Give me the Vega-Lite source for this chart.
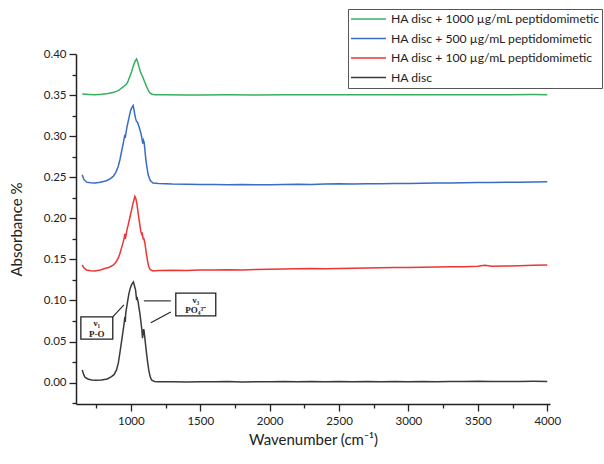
{
  "$schema": "https://vega.github.io/schema/vega-lite/v6.json",
  "width": 474,
  "height": 350,
  "autosize": {"type": "none"},
  "padding": {"left": 76, "top": 54, "right": 54, "bottom": 60},
  "background": "white",
  "config": {
    "view": {"stroke": null},
    "font": "Lato",
    "axis": {
      "grid": false,
      "domainColor": "#222",
      "domainWidth": 1.5,
      "tickColor": "#222",
      "tickWidth": 1.3,
      "labelFont": "Lato",
      "labelFontSize": 11.5,
      "labelColor": "#222",
      "titleFont": "Lato",
      "titleFontSize": 15,
      "titleFontWeight": "normal",
      "titleColor": "#222"
    },
    "legend": {
      "orient": "none",
      "legendX": 272,
      "legendY": -45,
      "strokeColor": "#555",
      "fillColor": "white",
      "padding": 2,
      "symbolType": "stroke",
      "symbolSize": 1225,
      "symbolStrokeWidth": 1.6,
      "clipHeight": 16,
      "rowPadding": 3.5,
      "labelFont": "Lato",
      "labelFontSize": 12.2,
      "labelColor": "#222",
      "labelOffset": 4,
      "labelLimit": 400
    }
  },
  "encoding": {
    "x": {
      "field": "x", "type": "quantitative",
      "scale": {"domain": [605, 4020], "nice": false, "zero": false},
      "axis": {
        "title": "Wavenumber (cm⁻¹)",
        "values": [750, 1000, 1250, 1500, 1750, 2000, 2250, 2500, 2750, 3000, 3250, 3500, 3750, 4000],
        "labelExpr": "datum.value % 500 == 0 ? datum.label : ''",
        "tickSize": {"condition": {"test": "datum.value % 500 == 0", "value": 7}, "value": 4},
        "format": "d",
        "labelPadding": 4,
        "titlePadding": 6
      }
    },
    "y": {
      "field": "y", "type": "quantitative",
      "scale": {"domain": [-0.026, 0.4], "nice": false, "zero": false},
      "axis": {
        "title": "Absorbance %",
        "values": [-0.025, 0, 0.025, 0.05, 0.075, 0.1, 0.125, 0.15, 0.175, 0.2, 0.225, 0.25, 0.275, 0.3, 0.325, 0.35, 0.375, 0.4],
        "format": ".2f",
        "labelExpr": "abs(datum.value * 20 - round(datum.value * 20)) < 0.001 ? datum.label : ''",
        "tickSize": {"condition": {"test": "abs(datum.value * 20 - round(datum.value * 20)) < 0.001", "value": 7}, "value": 4},
        "labelPadding": 3,
        "titlePadding": 19
      }
    }
  },
  "layer": [
    {
      "data": {"values": [
        {"s":"0","x":650,"y":0.0155},{"s":"0","x":660,"y":0.010},{"s":"0","x":669,"y":0.0066},{"s":"0","x":690,"y":0.0045},{"s":"0","x":717,"y":0.0033},{"s":"0","x":750,"y":0.003},{"s":"0","x":789,"y":0.0033},{"s":"0","x":830,"y":0.0045},{"s":"0","x":861,"y":0.0073},{"s":"0","x":880,"y":0.010},{"s":"0","x":897,"y":0.0155},{"s":"0","x":910,"y":0.024},{"s":"0","x":921,"y":0.036},{"s":"0","x":933,"y":0.050},{"s":"0","x":945,"y":0.064},{"s":"0","x":953,"y":0.074},{"s":"0","x":957,"y":0.080},{"s":"0","x":960,"y":0.074},{"s":"0","x":963,"y":0.084},{"s":"0","x":969,"y":0.0906},{"s":"0","x":978,"y":0.100},{"s":"0","x":987,"y":0.109},{"s":"0","x":996,"y":0.115},{"s":"0","x":1005,"y":0.119},{"s":"0","x":1012,"y":0.121},{"s":"0","x":1019,"y":0.1225},{"s":"0","x":1026,"y":0.118},{"s":"0","x":1034,"y":0.113},{"s":"0","x":1041,"y":0.102},{"s":"0","x":1046,"y":0.103},{"s":"0","x":1052,"y":0.099},{"s":"0","x":1058,"y":0.092},{"s":"0","x":1065,"y":0.0845},{"s":"0","x":1072,"y":0.075},{"s":"0","x":1077,"y":0.068},{"s":"0","x":1080,"y":0.064},{"s":"0","x":1084,"y":0.054},{"s":"0","x":1088,"y":0.060},{"s":"0","x":1093,"y":0.065},{"s":"0","x":1096,"y":0.062},{"s":"0","x":1105,"y":0.048},{"s":"0","x":1113,"y":0.036},{"s":"0","x":1121,"y":0.025},{"s":"0","x":1129,"y":0.0155},{"s":"0","x":1138,"y":0.008},{"s":"0","x":1149,"y":0.0033},{"s":"0","x":1170,"y":0.0015},{"s":"0","x":1196,"y":0.001},{"s":"0","x":1300,"y":0.0012},{"s":"0","x":1400,"y":0.0008},{"s":"0","x":1500,"y":0.0012},{"s":"0","x":1600,"y":0.001},{"s":"0","x":1700,"y":0.0014},{"s":"0","x":1800,"y":0.0009},{"s":"0","x":1900,"y":0.0012},{"s":"0","x":2000,"y":0.0011},{"s":"0","x":2100,"y":0.0015},{"s":"0","x":2200,"y":0.001},{"s":"0","x":2300,"y":0.0013},{"s":"0","x":2400,"y":0.0011},{"s":"0","x":2500,"y":0.0014},{"s":"0","x":2600,"y":0.001},{"s":"0","x":2700,"y":0.0013},{"s":"0","x":2800,"y":0.0012},{"s":"0","x":2900,"y":0.0015},{"s":"0","x":3000,"y":0.0012},{"s":"0","x":3100,"y":0.0014},{"s":"0","x":3200,"y":0.0011},{"s":"0","x":3300,"y":0.0015},{"s":"0","x":3400,"y":0.0013},{"s":"0","x":3500,"y":0.0016},{"s":"0","x":3600,"y":0.0013},{"s":"0","x":3700,"y":0.0015},{"s":"0","x":3800,"y":0.0014},{"s":"0","x":3900,"y":0.0016},{"s":"0","x":4000,"y":0.0015},

        {"s":"100","x":650,"y":0.1434},{"s":"100","x":660,"y":0.140},{"s":"100","x":681,"y":0.137},{"s":"100","x":710,"y":0.1362},{"s":"100","x":741,"y":0.136},{"s":"100","x":780,"y":0.1372},{"s":"100","x":813,"y":0.139},{"s":"100","x":845,"y":0.1405},{"s":"100","x":873,"y":0.143},{"s":"100","x":892,"y":0.1465},{"s":"100","x":909,"y":0.1515},{"s":"100","x":921,"y":0.157},{"s":"100","x":933,"y":0.164},{"s":"100","x":945,"y":0.171},{"s":"100","x":953,"y":0.177},{"s":"100","x":957,"y":0.181},{"s":"100","x":960,"y":0.175},{"s":"100","x":964,"y":0.178},{"s":"100","x":972,"y":0.186},{"s":"100","x":981,"y":0.192},{"s":"100","x":993,"y":0.201},{"s":"100","x":1005,"y":0.210},{"s":"100","x":1017,"y":0.219},{"s":"100","x":1029,"y":0.2266},{"s":"100","x":1036,"y":0.224},{"s":"100","x":1043,"y":0.2185},{"s":"100","x":1050,"y":0.210},{"s":"100","x":1058,"y":0.200},{"s":"100","x":1065,"y":0.192},{"s":"100","x":1072,"y":0.184},{"s":"100","x":1078,"y":0.181},{"s":"100","x":1081,"y":0.183},{"s":"100","x":1086,"y":0.178},{"s":"100","x":1090,"y":0.174},{"s":"100","x":1093,"y":0.176},{"s":"100","x":1101,"y":0.170},{"s":"100","x":1107,"y":0.163},{"s":"100","x":1113,"y":0.1555},{"s":"100","x":1121,"y":0.148},{"s":"100","x":1129,"y":0.141},{"s":"100","x":1140,"y":0.1375},{"s":"100","x":1160,"y":0.136},{"s":"100","x":1200,"y":0.1365},{"s":"100","x":1300,"y":0.1368},{"s":"100","x":1400,"y":0.1365},{"s":"100","x":1500,"y":0.137},{"s":"100","x":1600,"y":0.1372},{"s":"100","x":1700,"y":0.1375},{"s":"100","x":1800,"y":0.1372},{"s":"100","x":1900,"y":0.1378},{"s":"100","x":2000,"y":0.138},{"s":"100","x":2100,"y":0.1382},{"s":"100","x":2200,"y":0.1385},{"s":"100","x":2300,"y":0.1388},{"s":"100","x":2400,"y":0.1387},{"s":"100","x":2500,"y":0.139},{"s":"100","x":2600,"y":0.1393},{"s":"100","x":2700,"y":0.1395},{"s":"100","x":2800,"y":0.1398},{"s":"100","x":2900,"y":0.140},{"s":"100","x":3000,"y":0.1402},{"s":"100","x":3100,"y":0.1405},{"s":"100","x":3200,"y":0.1408},{"s":"100","x":3300,"y":0.141},{"s":"100","x":3400,"y":0.1412},{"s":"100","x":3500,"y":0.1418},{"s":"100","x":3550,"y":0.1428},{"s":"100","x":3600,"y":0.1418},{"s":"100","x":3700,"y":0.142},{"s":"100","x":3800,"y":0.1423},{"s":"100","x":3900,"y":0.1428},{"s":"100","x":4000,"y":0.1432},

        {"s":"500","x":650,"y":0.253},{"s":"500","x":660,"y":0.248},{"s":"500","x":681,"y":0.244},{"s":"500","x":710,"y":0.2432},{"s":"500","x":741,"y":0.243},{"s":"500","x":780,"y":0.2438},{"s":"500","x":825,"y":0.2457},{"s":"500","x":850,"y":0.248},{"s":"500","x":873,"y":0.251},{"s":"500","x":892,"y":0.256},{"s":"500","x":909,"y":0.263},{"s":"500","x":921,"y":0.271},{"s":"500","x":933,"y":0.281},{"s":"500","x":945,"y":0.291},{"s":"500","x":953,"y":0.298},{"s":"500","x":957,"y":0.302},{"s":"500","x":960,"y":0.298},{"s":"500","x":964,"y":0.303},{"s":"500","x":972,"y":0.311},{"s":"500","x":981,"y":0.318},{"s":"500","x":990,"y":0.325},{"s":"500","x":1000,"y":0.332},{"s":"500","x":1008,"y":0.335},{"s":"500","x":1017,"y":0.3374},{"s":"500","x":1023,"y":0.332},{"s":"500","x":1029,"y":0.326},{"s":"500","x":1035,"y":0.321},{"s":"500","x":1041,"y":0.318},{"s":"500","x":1048,"y":0.317},{"s":"500","x":1058,"y":0.312},{"s":"500","x":1065,"y":0.308},{"s":"500","x":1072,"y":0.304},{"s":"500","x":1078,"y":0.299},{"s":"500","x":1082,"y":0.295},{"s":"500","x":1086,"y":0.291},{"s":"500","x":1091,"y":0.295},{"s":"500","x":1096,"y":0.2925},{"s":"500","x":1101,"y":0.284},{"s":"500","x":1106,"y":0.275},{"s":"500","x":1115,"y":0.263},{"s":"500","x":1125,"y":0.253},{"s":"500","x":1140,"y":0.246},{"s":"500","x":1160,"y":0.243},{"s":"500","x":1200,"y":0.2425},{"s":"500","x":1300,"y":0.2418},{"s":"500","x":1400,"y":0.2415},{"s":"500","x":1500,"y":0.2412},{"s":"500","x":1600,"y":0.2412},{"s":"500","x":1700,"y":0.241},{"s":"500","x":1800,"y":0.2413},{"s":"500","x":1900,"y":0.241},{"s":"500","x":2000,"y":0.241},{"s":"500","x":2100,"y":0.2412},{"s":"500","x":2200,"y":0.2415},{"s":"500","x":2300,"y":0.2413},{"s":"500","x":2400,"y":0.2418},{"s":"500","x":2500,"y":0.242},{"s":"500","x":2600,"y":0.2418},{"s":"500","x":2700,"y":0.2422},{"s":"500","x":2800,"y":0.2422},{"s":"500","x":2900,"y":0.2425},{"s":"500","x":3000,"y":0.2425},{"s":"500","x":3100,"y":0.2428},{"s":"500","x":3200,"y":0.243},{"s":"500","x":3300,"y":0.243},{"s":"500","x":3400,"y":0.2433},{"s":"500","x":3500,"y":0.2435},{"s":"500","x":3600,"y":0.2435},{"s":"500","x":3700,"y":0.2438},{"s":"500","x":3800,"y":0.244},{"s":"500","x":3900,"y":0.2442},{"s":"500","x":4000,"y":0.2445},

        {"s":"1000","x":650,"y":0.3513},{"s":"1000","x":700,"y":0.3508},{"s":"1000","x":741,"y":0.3504},{"s":"1000","x":790,"y":0.351},{"s":"1000","x":837,"y":0.352},{"s":"1000","x":870,"y":0.3532},{"s":"1000","x":897,"y":0.3545},{"s":"1000","x":915,"y":0.356},{"s":"1000","x":933,"y":0.3586},{"s":"1000","x":950,"y":0.3605},{"s":"1000","x":962,"y":0.3625},{"s":"1000","x":969,"y":0.3635},{"s":"1000","x":980,"y":0.367},{"s":"1000","x":993,"y":0.3727},{"s":"1000","x":1005,"y":0.378},{"s":"1000","x":1017,"y":0.385},{"s":"1000","x":1030,"y":0.391},{"s":"1000","x":1041,"y":0.394},{"s":"1000","x":1050,"y":0.390},{"s":"1000","x":1058,"y":0.385},{"s":"1000","x":1068,"y":0.379},{"s":"1000","x":1077,"y":0.375},{"s":"1000","x":1083,"y":0.373},{"s":"1000","x":1088,"y":0.371},{"s":"1000","x":1100,"y":0.366},{"s":"1000","x":1113,"y":0.3605},{"s":"1000","x":1125,"y":0.356},{"s":"1000","x":1137,"y":0.3525},{"s":"1000","x":1155,"y":0.351},{"s":"1000","x":1173,"y":0.3504},{"s":"1000","x":1250,"y":0.3503},{"s":"1000","x":1400,"y":0.3502},{"s":"1000","x":1500,"y":0.3502},{"s":"1000","x":1700,"y":0.3503},{"s":"1000","x":1900,"y":0.3502},{"s":"1000","x":2100,"y":0.3503},{"s":"1000","x":2300,"y":0.3504},{"s":"1000","x":2500,"y":0.3503},{"s":"1000","x":2700,"y":0.3504},{"s":"1000","x":2900,"y":0.3504},{"s":"1000","x":3100,"y":0.3505},{"s":"1000","x":3300,"y":0.3504},{"s":"1000","x":3500,"y":0.3505},{"s":"1000","x":3700,"y":0.3505},{"s":"1000","x":3900,"y":0.3506},{"s":"1000","x":4000,"y":0.3505}
      ]},
      "mark": {"type": "line", "strokeWidth": 1.5, "clip": true},
      "encoding": {
        "color": {
          "field": "s", "type": "nominal",
          "scale": {
            "domain": ["1000", "500", "100", "0"],
            "range": ["#36b05f", "#3a6cc6", "#ec3535", "#3a3a3a"]
          },
          "legend": {
            "title": null,
            "labelExpr": "datum.label == '0' ? 'HA disc' : 'HA disc + ' + datum.label + ' µg/mL peptidomimetic'"
          }
        }
      }
    },
    {
      "data": {"values": [
        {"x": 870, "y": 0.080, "x2": 950, "y2": 0.0945},
        {"x": 1094, "y": 0.0995, "x2": 1288, "y2": 0.0995},
        {"x": 1144, "y": 0.0728, "x2": 1288, "y2": 0.086}
      ]},
      "mark": {"type": "rule", "color": "#222", "strokeWidth": 1.1},
      "encoding": {
        "x2": {"field": "x2"},
        "y2": {"field": "y2"}
      }
    },
    {
      "data": {"values": [
        {"x": 640, "x2": 870, "y": 0.053, "y2": 0.080},
        {"x": 1324, "x2": 1612, "y": 0.0812, "y2": 0.109}
      ]},
      "mark": {"type": "rect", "fill": "white", "stroke": "#222", "strokeWidth": 1.3},
      "encoding": {
        "x2": {"field": "x2"},
        "y2": {"field": "y2"}
      }
    },
    {
      "data": {"values": [
        {"x": 755, "y": 0.0725, "t": "ν₁"},
        {"x": 755, "y": 0.0595, "t": "P-O"},
        {"x": 1468, "y": 0.1005, "t": "ν₃"},
        {"x": 1468, "y": 0.0885, "t": "PO₄³⁻"}
      ]},
      "mark": {"type": "text", "font": "Liberation Serif", "fontSize": 9, "fontWeight": "bold", "color": "#222", "align": "center", "baseline": "middle"},
      "encoding": {
        "text": {"field": "t"}
      }
    }
  ]
}
